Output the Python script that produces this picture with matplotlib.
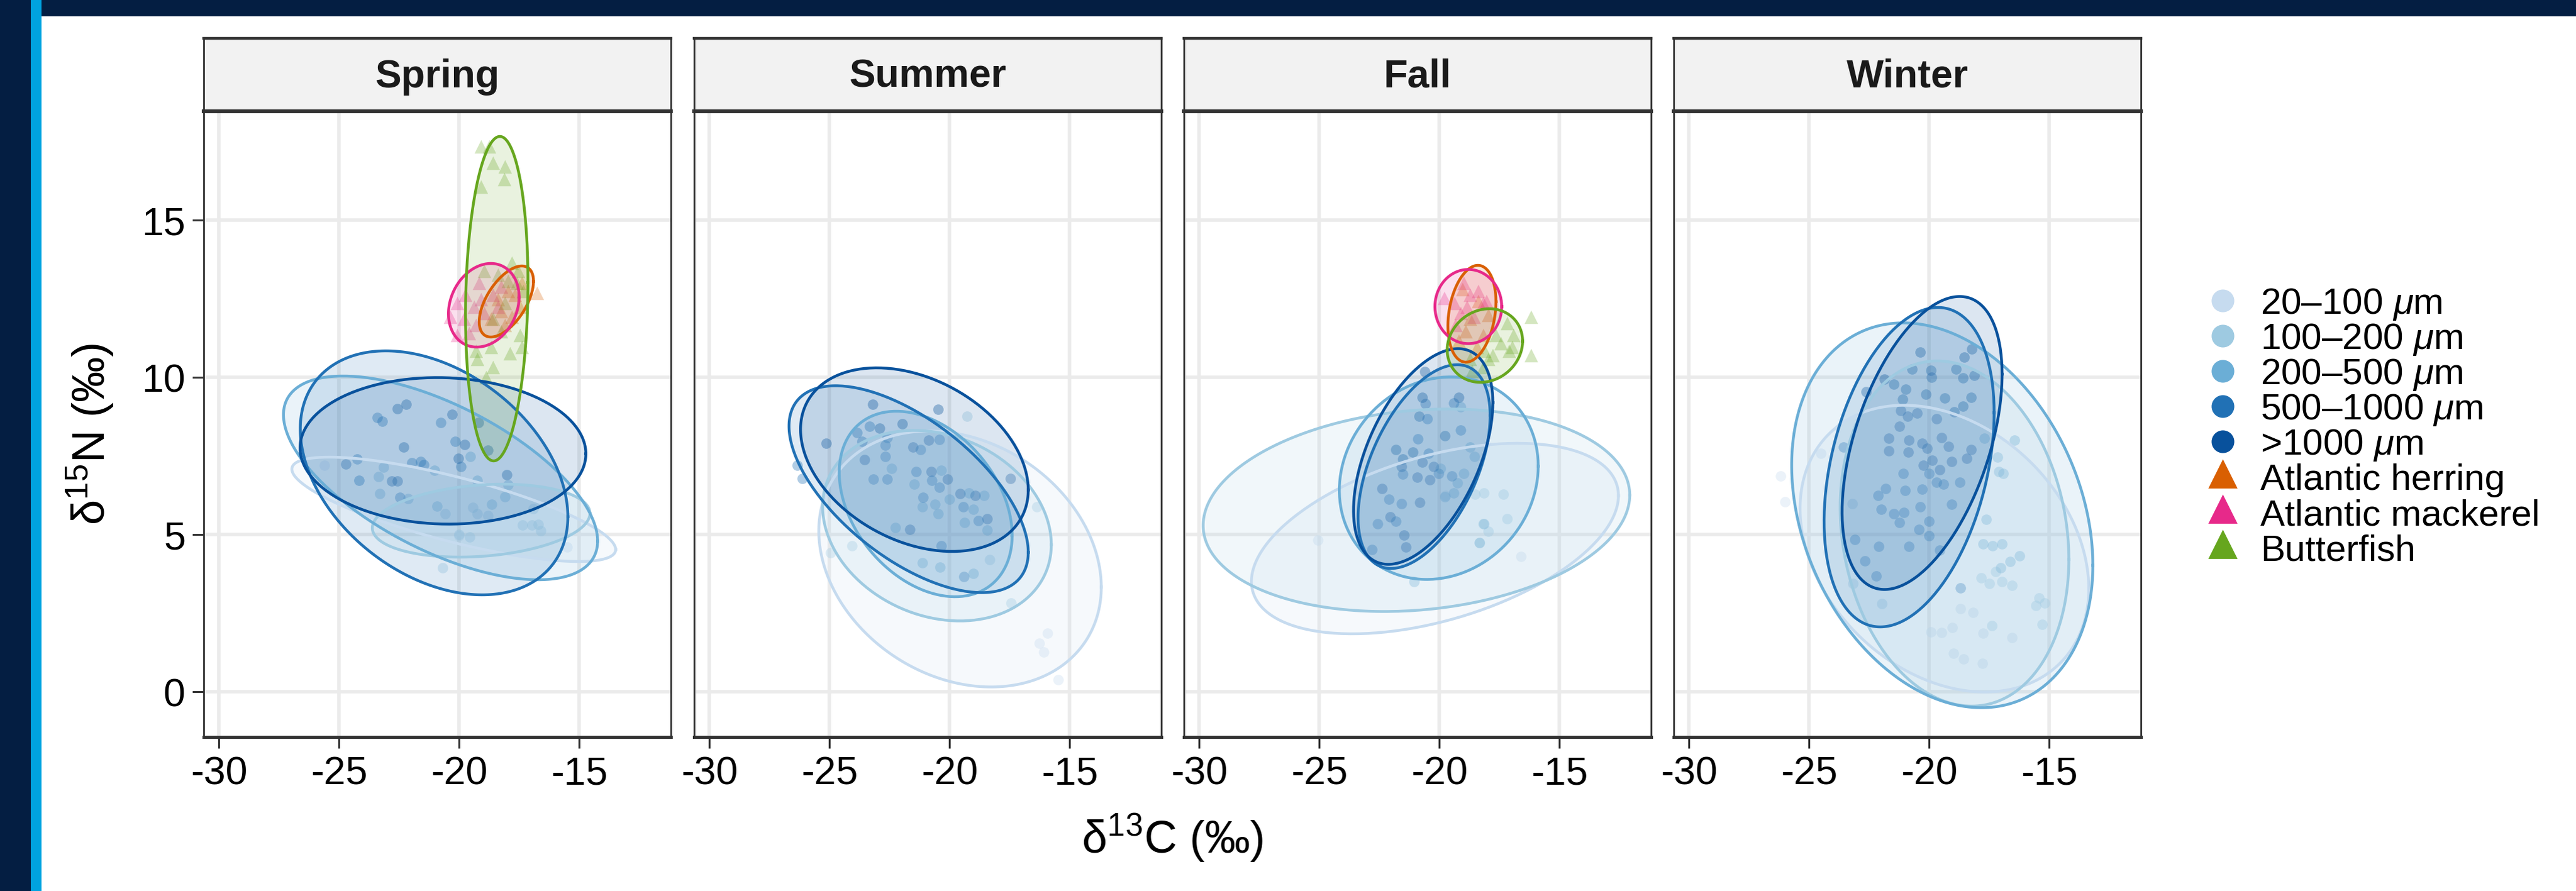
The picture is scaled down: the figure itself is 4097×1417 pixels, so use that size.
import numpy as np
import matplotlib
matplotlib.use("Agg")
import matplotlib.pyplot as plt
from matplotlib.patches import Rectangle

plt.rcParams["font.family"] = ["Liberation Sans", "DejaVu Sans"]
plt.rcParams["mathtext.fontset"] = "custom"
plt.rcParams["mathtext.rm"] = "Liberation Sans"
plt.rcParams["mathtext.it"] = "Liberation Sans:italic"
plt.rcParams["axes.unicode_minus"] = False

# ---- data -------------------------------------------------------------
SEASONS = ["Spring", "Summer", "Fall", "Winter"]
GROUPS = ["20-100", "100-200", "200-500", "500-1000", ">1000",
          "herring", "mackerel", "butterfish"]
LABELS = ["20–100 $\\mu$m", "100–200 $\\mu$m", "200–500 $\\mu$m",
          "500–1000 $\\mu$m", ">1000 $\\mu$m", "Atlantic herring",
          "Atlantic mackerel", "Butterfish"]
X_TICKS = [-30, -25, -20, -15]
Y_TICKS = [0, 5, 10, 15]

# ellipse per group: (centre x, half-range x, centre y, half-range y, correlation)
SPRING_ELL = {
    "20-100": (-20.22, 6.74, 5.80, 1.66, -0.77),
    "100-200": (-19.08, 4.53, 5.44, 1.16, 0.20),
    "200-500": (-20.77, 6.54, 6.80, 3.24, -0.62),
    "500-1000": (-21.04, 5.57, 6.96, 3.88, -0.36),
    ">1000": (-20.67, 5.95, 7.66, 2.33, -0.04),
    "herring": (-18.03, 1.13, 12.41, 1.13, 0.57),
    "mackerel": (-18.97, 1.47, 12.29, 1.33, 0.20),
    "butterfish": (-18.43, 1.30, 12.50, 5.16, 0.10),
}
SUMMER_ELL = {
    "20-100": (-19.56, 5.88, 4.22, 4.07, -0.22),
    "100-200": (-20.52, 4.76, 5.28, 3.03, -0.20),
    "200-500": (-20.99, 3.60, 5.97, 2.95, -0.34),
    "500-1000": (-21.70, 4.98, 6.44, 3.29, -0.61),
    ">1000": (-21.46, 4.74, 7.38, 2.92, -0.33),
}
FALL_ELL = {
    "20-100": (-20.18, 7.64, 4.87, 3.03, 0.45),
    "100-200": (-20.95, 8.88, 5.77, 3.22, 0.15),
    "200-500": (-20.02, 4.14, 6.79, 3.22, 0.12),
    "500-1000": (-20.63, 2.75, 7.16, 3.24, 0.50),
    ">1000": (-20.67, 2.90, 7.48, 3.43, 0.50),
    "herring": (-18.64, 1.00, 12.02, 1.54, 0.25),
    "mackerel": (-18.79, 1.39, 12.25, 1.18, 0.00),
    "butterfish": (-18.10, 1.57, 11.01, 1.17, 0.12),
}
WINTER_ELL = {
    "20-100": (-19.36, 6.01, 4.55, 4.56, -0.28),
    "100-200": (-18.94, 4.76, 5.03, 5.49, -0.15),
    "200-500": (-19.45, 6.27, 5.61, 6.12, -0.26),
    "500-1000": (-20.83, 3.54, 7.14, 5.08, 0.34),
    ">1000": (-20.29, 3.33, 7.91, 4.66, 0.47),
}

SPRING_PTS = {
    "20-100": [(-24.16, 6.73), (-20.01, 4.97), (-25.6, 7.2), (-15.5, 4.6)],
    "100-200": [(-20.57, 5.67), (-19.42, 5.87), (-19.25, 5.67), (-18.80, 5.60), (-17.35, 5.30),
                (-16.97, 5.30), (-16.70, 5.33), (-16.60, 5.13), (-16.90, 5.83), (-20.00, 5.00),
                (-19.55, 4.93), (-20.68, 3.95)],
    "200-500": [(-23.14, 7.15), (-23.34, 6.85), (-21.01, 7.05), (-23.31, 6.31), (-22.13, 6.15),
                (-20.91, 5.90), (-19.25, 6.72), (-17.95, 6.59), (-18.10, 6.20), (-19.52, 7.49),
                (-18.65, 5.97)],
    "500-1000": [(-23.41, 8.73), (-23.19, 8.61), (-20.77, 8.57), (-20.17, 7.97), (-19.92, 7.17),
                 (-21.96, 7.29), (-21.61, 7.32), (-21.46, 7.22), (-22.46, 6.19), (-24.23, 7.40),
                 (-24.16, 6.73)],
    ">1000": [(-22.21, 9.15), (-22.58, 9.00), (-20.30, 8.83), (-22.31, 7.78), (-24.71, 7.25),
              (-20.02, 7.43), (-19.77, 7.87), (-19.18, 8.57), (-18.80, 7.69), (-18.02, 6.90),
              (-22.56, 6.71), (-22.81, 6.71)],
    "herring": [(-18.38, 12.49), (-17.96, 12.75), (-17.67, 12.62), (-17.46, 12.24), (-18.24, 12.11),
                (-17.81, 11.92), (-18.67, 11.86), (-16.75, 12.69), (-17.39, 13.01), (-18.10, 11.67)],
    "mackerel": [(-20.37, 11.92), (-20.08, 12.37), (-19.73, 12.62), (-19.37, 12.24), (-19.09, 12.49),
                 (-19.80, 11.86), (-19.30, 11.67), (-18.95, 12.05), (-18.59, 12.62), (-18.24, 12.88),
                 (-19.59, 11.41), (-20.08, 11.35), (-18.38, 12.24), (-19.16, 13.01)],
    "butterfish": [(-19.09, 17.34), (-18.74, 17.34), (-18.59, 16.83), (-18.10, 16.70), (-18.13, 16.30),
                   (-19.09, 16.07), (-17.81, 13.64), (-17.53, 13.39), (-17.60, 13.01), (-17.32, 12.75),
                   (-18.95, 13.39), (-18.38, 13.26), (-17.96, 13.07), (-18.59, 11.86), (-18.24, 11.47),
                   (-19.30, 10.84), (-18.67, 10.96), (-17.89, 10.77), (-17.39, 10.96), (-19.23, 10.58),
                   (-18.59, 10.33), (-18.88, 10.01), (-17.46, 11.35), (-18.10, 12.37)],
}
SUMMER_PTS = {
    "20-100": [(-15.92, 1.87), (-16.26, 1.55), (-16.08, 1.27), (-15.48, 0.38)],
    "100-200": [(-18.32, 4.20), (-16.36, 5.89), (-24.94, 4.42), (-24.07, 4.65), (-19.26, 8.76),
                (-17.44, 2.83)],
    "200-500": [(-22.40, 7.11), (-20.35, 7.05), (-21.46, 6.60), (-20.60, 5.96), (-19.99, 6.12),
                (-21.13, 5.89), (-20.46, 5.67), (-19.19, 6.33), (-18.57, 6.24), (-19.02, 5.80),
                (-19.37, 5.38), (-18.43, 5.14), (-22.26, 5.22), (-21.13, 4.10), (-20.40, 3.97),
                (-19.01, 3.76)],
    "500-1000": [(-23.84, 8.25), (-23.33, 8.44), (-22.60, 8.09), (-23.63, 7.97), (-22.68, 7.84),
                 (-20.43, 8.03), (-21.20, 7.71), (-22.67, 7.48), (-23.17, 6.76), (-22.60, 6.76),
                 (-21.40, 7.01), (-20.73, 6.73), (-20.42, 6.50), (-21.10, 6.18), (-19.42, 5.89),
                 (-18.79, 5.45), (-20.33, 4.65), (-19.40, 3.67), (-26.34, 7.20), (-26.14, 6.78)],
    ">1000": [(-23.20, 9.15), (-20.46, 8.99), (-25.14, 7.90), (-22.91, 8.39), (-21.96, 8.52),
              (-20.86, 8.00), (-21.53, 7.78), (-23.53, 7.39), (-20.76, 7.01), (-20.09, 6.76),
              (-19.55, 6.31), (-18.93, 6.24), (-18.43, 5.51), (-21.64, 5.16), (-17.46, 6.79)],
}
FALL_PTS = {
    "20-100": [(-25.05, 4.83), (-19.75, 6.24), (-16.6, 4.3)],
    "100-200": [(-18.50, 6.28), (-18.15, 6.33), (-17.33, 6.28), (-17.17, 5.51), (-17.97, 5.11),
                (-18.17, 5.35), (-18.33, 4.74)],
    "200-500": [(-19.12, 9.07), (-18.71, 7.79), (-18.53, 7.49), (-19.94, 7.10), (-18.97, 6.95),
                (-19.24, 6.65), (-19.76, 6.21), (-19.39, 6.32), (-18.15, 5.35), (-18.32, 4.75),
                (-21.05, 3.50)],
    "500-1000": [(-20.58, 9.17), (-19.39, 9.18), (-20.49, 8.68), (-19.12, 8.33), (-20.90, 8.05),
                 (-20.44, 7.58), (-21.51, 6.93), (-20.02, 6.95), (-19.47, 6.87), (-22.10, 6.13),
                 (-21.57, 5.99), (-21.81, 5.43), (-22.57, 5.35), (-22.80, 4.53)],
    ">1000": [(-20.60, 10.18), (-20.70, 9.37), (-19.20, 9.37), (-20.84, 8.77), (-19.76, 8.15),
              (-21.81, 7.70), (-21.11, 7.63), (-21.51, 7.40), (-20.70, 7.30), (-21.57, 7.17),
              (-20.23, 7.17), (-20.93, 6.82), (-20.40, 6.75), (-22.39, 6.47), (-20.81, 6.02),
              (-22.04, 5.57), (-21.48, 4.98), (-21.40, 4.61)],
    "herring": [(-19.04, 12.81), (-18.37, 12.43), (-18.71, 11.86), (-18.91, 11.47), (-18.17, 11.35),
                (-18.44, 10.96), (-19.18, 11.16), (-17.97, 11.98)],
    "mackerel": [(-19.78, 12.53), (-19.38, 12.37), (-18.97, 13.01), (-18.71, 12.62), (-18.37, 12.75),
                 (-18.17, 12.37), (-19.11, 12.05), (-18.57, 11.92), (-19.31, 11.67), (-18.04, 12.43),
                 (-18.84, 12.24)],
    "butterfish": [(-16.17, 11.92), (-16.17, 10.71), (-17.17, 11.73), (-16.90, 11.35), (-17.44, 11.09),
                   (-17.10, 10.84), (-17.77, 10.71), (-18.11, 10.84), (-17.64, 11.35), (-18.17, 10.33),
                   (-18.64, 10.20), (-16.97, 10.96), (-17.97, 10.58), (-18.71, 10.58)],
}
WINTER_PTS = {
    "20-100": [(-17.76, 1.87), (-18.16, 2.52), (-18.69, 2.64), (-19.03, 2.04), (-19.47, 1.88),
               (-19.92, 1.91), (-16.55, 1.72), (-18.99, 1.23), (-18.56, 1.04), (-17.78, 0.91),
               (-26.17, 6.86), (-26.00, 6.05), (-24.50, 7.58)],
    "100-200": [(-17.22, 3.82), (-17.82, 3.63), (-17.49, 3.44), (-16.96, 3.50), (-16.55, 3.38),
                (-15.42, 2.99), (-15.55, 2.74), (-15.18, 2.83), (-15.29, 2.14), (-17.38, 2.10),
                (-21.96, 2.80), (-23.17, 3.44), (-23.19, 5.99)],
    "200-500": [(-16.45, 8.01), (-17.16, 7.46), (-16.92, 6.95), (-17.62, 5.48), (-17.76, 4.71),
                (-17.36, 4.65), (-16.96, 4.71), (-16.22, 4.33), (-16.62, 4.14), (-17.02, 3.95),
                (-17.69, 8.06), (-17.09, 7.01)],
    "500-1000": [(-21.07, 6.95), (-20.00, 6.95), (-18.72, 6.67), (-19.69, 6.67), (-19.39, 6.60),
                 (-21.80, 6.47), (-20.99, 6.41), (-20.29, 6.44), (-22.12, 6.24), (-19.05, 5.96),
                 (-20.36, 5.89), (-21.99, 5.80), (-21.47, 5.67), (-21.06, 5.71), (-21.23, 5.39),
                 (-20.00, 5.42), (-20.43, 5.16), (-20.00, 4.97), (-22.10, 4.63), (-20.83, 4.63),
                 (-19.56, 4.50), (-22.66, 4.17), (-22.19, 3.69), (-18.69, 3.31), (-23.10, 4.84),
                 (-23.57, 7.78)],
    ">1000": [(-20.36, 10.80), (-18.53, 10.65), (-18.22, 10.90), (-20.70, 10.26), (-19.92, 10.22),
              (-18.87, 10.26), (-21.86, 9.94), (-19.89, 10.01), (-18.59, 9.98), (-18.12, 10.07),
              (-20.96, 9.62), (-21.46, 9.79), (-20.12, 9.46), (-19.36, 9.34), (-18.26, 9.37),
              (-22.63, 9.54), (-21.10, 9.31), (-18.59, 9.08), (-21.19, 8.95), (-20.50, 8.86),
              (-19.69, 8.69), (-18.96, 8.90), (-20.90, 8.76), (-21.23, 8.44), (-21.67, 8.07),
              (-20.83, 8.01), (-20.29, 7.90), (-19.49, 8.09), (-19.19, 7.81), (-18.26, 7.71),
              (-21.67, 7.67), (-20.87, 7.62), (-20.09, 7.74), (-18.42, 7.42), (-19.07, 7.33),
              (-19.87, 7.37), (-20.25, 7.20), (-19.56, 7.07)],
}

ELLIPSES = [SPRING_ELL, SUMMER_ELL, FALL_ELL, WINTER_ELL]
POINTS = [SPRING_PTS, SUMMER_PTS, FALL_PTS, WINTER_PTS]

# ---- style ------------------------------------------------------------
COLORS = {
    "20-100": "#C6DBEF", "100-200": "#9ECAE1", "200-500": "#6BAED6",
    "500-1000": "#2171B5", ">1000": "#08519C",
    "herring": "#D95F02", "mackerel": "#E7298A", "butterfish": "#66A61E",
}
FISH = ["herring", "mackerel", "butterfish"]
INK = "#333333"

W, H = 4097, 1417
PANEL_LEFT = [324, 1104, 1883, 2662]
PANEL_W = 743
PANEL_TOP, PANEL_BOTTOM, STRIP_TOP = 177, 1172, 61


def ellipse_xy(cx, sx, cy, sy, rho, n=240):
    t = np.linspace(0, 2 * np.pi, n)
    x = cx + sx * np.cos(t)
    y = cy + sy * (rho * np.cos(t) + np.sqrt(1 - rho ** 2) * np.sin(t))
    return x, y


fig = plt.figure(figsize=(W / 200, H / 200), dpi=200)
fig.patch.set_facecolor("white")

for i, season in enumerate(SEASONS):
    left = PANEL_LEFT[i] / W
    ax = fig.add_axes([left, (H - PANEL_BOTTOM) / H, PANEL_W / W,
                       (PANEL_BOTTOM - PANEL_TOP) / H])
    ax.set_xlim(-30.63, -11.18)
    ax.set_ylim(-1.44, 18.46)
    ax.set_xticks(X_TICKS)
    ax.set_yticks(Y_TICKS)
    ax.grid(True, color="#EBEBEB", linewidth=2.0)
    ax.set_axisbelow(True)
    for side in ["top", "left", "right"]:
        ax.spines[side].set_color(INK)
        ax.spines[side].set_linewidth(1.0)
    ax.spines["bottom"].set_color(INK)
    ax.spines["bottom"].set_linewidth(1.8)
    ax.tick_params(axis="both", length=6.5, width=1.1, color=INK,
                   labelsize=22.5, labelcolor="black", pad=4)
    if i > 0:
        ax.tick_params(axis="y", left=False, labelleft=False)

    pts = POINTS[i]
    ells = ELLIPSES[i]
    for g in GROUPS:
        if g not in pts:
            continue
        xy = np.array(pts[g])
        if g in FISH:
            ax.scatter(xy[:, 0], xy[:, 1], s=60, marker="^", color=COLORS[g],
                       alpha=0.28, linewidths=0, zorder=2)
        else:
            ax.scatter(xy[:, 0], xy[:, 1], s=36, marker="o", color=COLORS[g],
                       alpha=0.35, linewidths=0, zorder=2)
    for g in GROUPS:
        if g not in ells:
            continue
        ex, ey = ellipse_xy(*ells[g])
        ax.fill(ex, ey, color=COLORS[g], alpha=0.14, linewidth=0, zorder=3)
        ax.plot(ex, ey, color=COLORS[g], linewidth=1.6, zorder=4)

    sax = fig.add_axes([left, (H - PANEL_TOP) / H, PANEL_W / W,
                        (PANEL_TOP - STRIP_TOP) / H])
    sax.set_facecolor("#F2F2F2")
    sax.set_xticks([])
    sax.set_yticks([])
    for side in sax.spines.values():
        side.set_color(INK)
        side.set_linewidth(1.0)
    sax.spines["bottom"].set_linewidth(2.2)
    sax.spines["top"].set_linewidth(1.6)
    sax.text(0.5, 0.47, season, ha="center", va="center", fontsize=22.5,
             fontweight="bold", color="#1A1A1A", transform=sax.transAxes)

# axis titles
fig.text(1865 / W, 1 - 1333 / H, "δ$^{13}$C (‰)", ha="center", va="center",
         fontsize=26)
fig.text(144 / W, 1 - 690 / H, "δ$^{15}$N (‰)", ha="center", va="center",
         fontsize=26, rotation=90)

# overlay: slide frame and legend, in pixel coordinates
ov = fig.add_axes([0, 0, 1, 1], facecolor="none")
ov.set_xlim(0, W)
ov.set_ylim(H, 0)
ov.axis("off")
ov.add_patch(Rectangle((0, 0), W, 26, color="#041E42", linewidth=0))
ov.add_patch(Rectangle((0, 0), 49, H, color="#041E42", linewidth=0))
ov.add_patch(Rectangle((49, 0), 17, H, color="#00A3E0", linewidth=0))

row_y0, row_dy = 478, 56.0
for k, (g, lab) in enumerate(zip(GROUPS, LABELS)):
    yk = row_y0 + k * row_dy
    if g in FISH:
        ov.plot([3535], [yk - 4], marker="^", markersize=15, color=COLORS[g],
                linestyle="none")
    else:
        ov.plot([3535], [yk], marker="o", markersize=12, color=COLORS[g],
                linestyle="none")
    ov.text(3595, yk + 21, lab, ha="left", va="baseline", fontsize=21)

fig.savefig("out.png", dpi=200)
